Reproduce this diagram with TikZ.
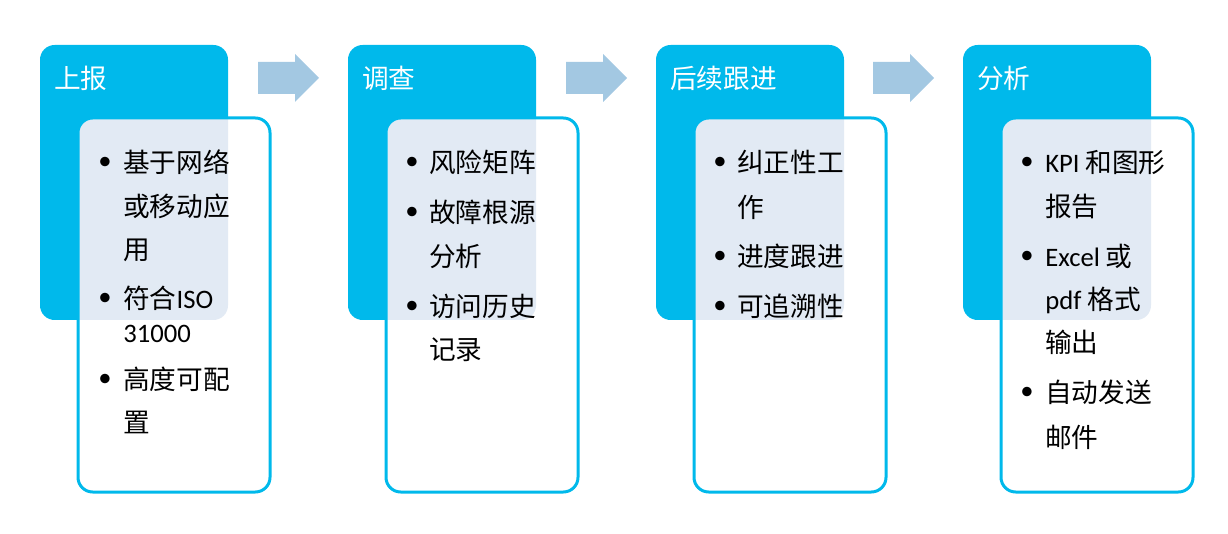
\documentclass[tikz,border=0pt]{standalone}
\usepackage{fontspec}
\setmainfont{Noto Sans CJK SC}
\newfontfamily\lat{Carlito}
\definecolor{cy}{HTML}{00B9EB}
\definecolor{ov}{HTML}{E2EAF4}
\definecolor{ar}{HTML}{A3C8E2}
\tikzset{
  hdr/.style={rectangle, fill=cy, rounded corners=11pt, minimum width=141pt, minimum height=206.25pt, inner sep=0pt},
  boxfill/.style={rectangle, fill=white, rounded corners=11pt, minimum width=144pt, minimum height=280.5pt, inner sep=0pt},
  boxline/.style={rectangle, draw=cy, line width=2.25pt, rounded corners=11pt, minimum width=144pt, minimum height=280.5pt, inner sep=0pt},
  htxt/.style={anchor=base west, inner sep=0pt, text=white, font=\fontsize{20}{24}\selectfont},
  itxt/.style={anchor=base west, inner sep=0pt, text=black, font=\fontsize{20}{24}\selectfont},
  bul/.style={anchor=center, inner sep=0pt, text=black, font=\lat\fontsize{20}{24}\selectfont},
  blockarrow/.style={fill=ar}
}
\begin{document}
\begin{tikzpicture}[x=0.75pt,y=-0.75pt]
\useasboundingbox (0,0) rectangle (1228,534);
% columns
\foreach \i/\hx in {1/40,2/348,3/656,4/963}{
  \node[hdr] (h\i) at (\hx+94,182.5) {};
  \node[boxfill] (bf\i) at (\hx+134,305) {};
  \begin{scope}
    \clip[rounded corners=11pt] (\hx,45) rectangle (\hx+188,320);
    \fill[ov, rounded corners=11pt] (\hx+38,118) rectangle (\hx+230,492);
  \end{scope}
  \node[boxline] (b\i) at (\hx+134,305) {};
}
% arrows
\foreach \ax in {258,566,873}{
  \fill[blockarrow] (\ax,62) -- (\ax+37,62) -- (\ax+37,54) -- (\ax+61,78) -- (\ax+37,102) -- (\ax+37,94) -- (\ax,94) -- cycle;
}
% headers
\node[htxt] (t1) at (54,89) {上报};
\node[htxt] (t2) at (362,89) {调查};
\node[htxt] (t3) at (670,89) {后续跟进};
\node[htxt] (t4) at (977,89) {分析};
% column 1
\node[bul] (p11) at (105,163) {\textbullet};
\node[itxt] (l11) at (123,173) {基于网络};
\node[itxt] (l12) at (123,217) {或移动应};
\node[itxt] (l13) at (123,260) {用};
\node[bul] (p12) at (105,299) {\textbullet};
\node[itxt] (l14) at (123,309) {符合{\lat ISO}};
\node[itxt] (l15) at (123,343) {\lat 31000};
\node[bul] (p13) at (105,380) {\textbullet};
\node[itxt] (l16) at (123,390) {高度可配};
\node[itxt] (l17) at (123,433) {置};
% column 2
\node[bul] (p21) at (412,163) {\textbullet};
\node[itxt] (l21) at (429,173) {风险矩阵};
\node[bul] (p22) at (412,213) {\textbullet};
\node[itxt] (l22) at (429,223) {故障根源};
\node[itxt] (l23) at (429,267) {分析};
\node[bul] (p23) at (412,307) {\textbullet};
\node[itxt] (l24) at (429,317) {访问历史};
\node[itxt] (l25) at (429,360) {记录};
% column 3
\node[bul] (p31) at (720,163) {\textbullet};
\node[itxt] (l31) at (737,173) {纠正性工};
\node[itxt] (l32) at (737,218) {作};
\node[bul] (p32) at (720,257) {\textbullet};
\node[itxt] (l33) at (737,267) {进度跟进};
\node[bul] (p33) at (720,307) {\textbullet};
\node[itxt] (l34) at (737,317) {可追溯性};
% column 4
\node[bul] (p41) at (1027,163) {\textbullet};
\node[itxt] (l41) at (1045,173) {{\lat KPI} 和图形};
\node[itxt] (l42) at (1045,217) {报告};
\node[bul] (p42) at (1027,257) {\textbullet};
\node[itxt] (l43) at (1045,267) {{\lat Excel} 或};
\node[itxt] (l44) at (1045,310) {{\lat pdf} 格式};
\node[itxt] (l45) at (1045,353) {输出};
\node[bul] (p43) at (1027,393) {\textbullet};
\node[itxt] (l46) at (1045,403) {自动发送};
\node[itxt] (l47) at (1045,447) {邮件};
\end{tikzpicture}
\end{document}
